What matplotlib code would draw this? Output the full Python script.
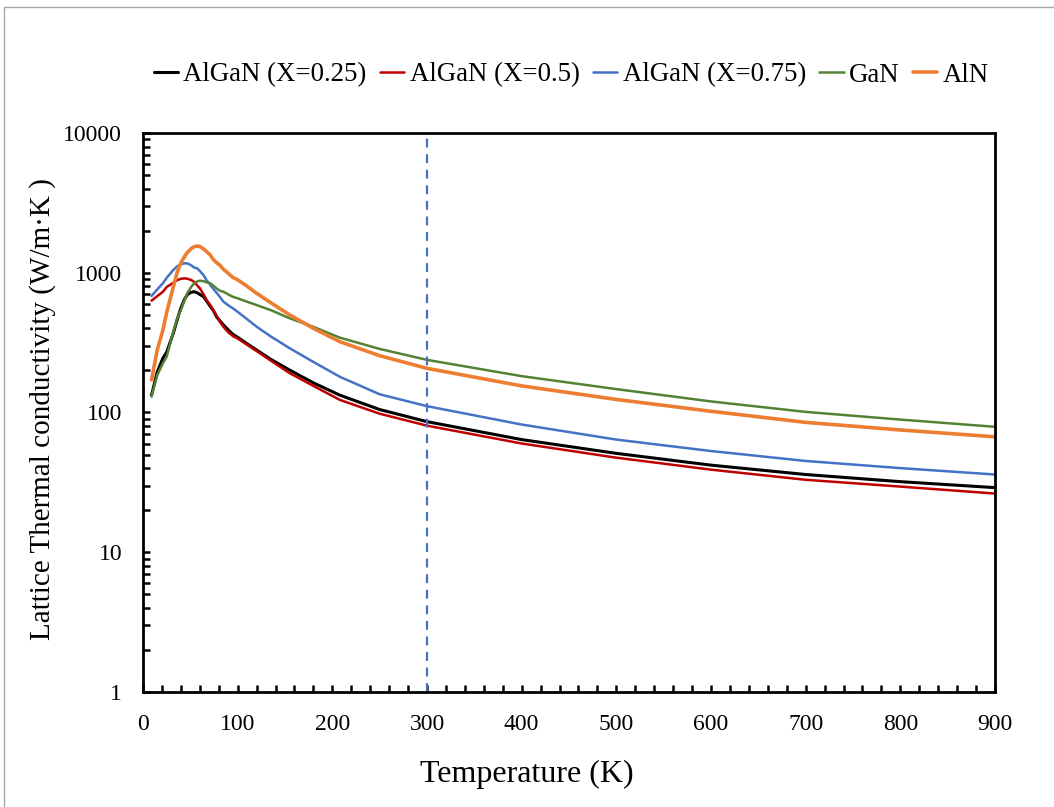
import matplotlib
matplotlib.use("Agg")
import matplotlib.pyplot as plt
from matplotlib.patches import Rectangle
from matplotlib.ticker import MultipleLocator, LogLocator, FuncFormatter, NullFormatter

plt.rcParams["font.family"] = ["Liberation Serif", "DejaVu Serif"]

temp = [9, 15, 21, 25, 32, 36, 40, 44, 47, 51, 54, 57, 60, 64, 67, 71, 74, 78, 81, 85,
        90, 95, 100, 110, 120, 135, 155, 180, 208, 250, 300, 400, 500, 600, 700, 800, 900]

k_x025 = [133, 195, 245, 270, 370, 460, 560, 650, 700, 725, 732, 720, 700, 674, 630, 575, 541, 480, 455, 423,
          390, 362, 345, 310, 280, 240, 201, 163, 133, 105, 86, 64, 51, 42, 36, 32, 29]
k_x05 = [631, 680, 731, 790, 849, 885, 905, 912, 905, 887, 860, 815, 774, 700, 640, 587, 545, 490, 447, 410,
         375, 352, 338, 305, 275, 235, 191, 155, 123, 98, 80.5, 60, 47.5, 39, 33, 29.5, 26.3]
k_x075 = [682, 760, 841, 920, 1047, 1110, 1150, 1169, 1165, 1130, 1090, 1077, 1030, 960, 887, 820, 770, 715, 674, 620,
          585, 556, 525, 465, 411, 350, 288, 230, 180, 135, 111, 82, 64, 53, 45, 40, 36]
k_gan = [130, 185, 225, 251, 380, 470, 541, 640, 720, 794, 840, 865, 877, 870, 855, 841, 810, 770, 745, 731,
         700, 672, 656, 620, 587, 540, 472, 410, 343, 285, 238, 182, 147, 120, 101, 89, 79]
k_aln = [171, 280, 389, 520, 794, 1000, 1180, 1310, 1400, 1490, 1535, 1552, 1540, 1480, 1420, 1340, 1250, 1175, 1135, 1060,
         990, 925, 890, 800, 713, 610, 499, 400, 321, 255, 207, 155, 124, 102, 85, 75, 67]

series = [
    ("AlGaN (X=0.25)", k_x025, "#000000", 2.2),
    ("AlGaN (X=0.5)", k_x05, "#C00000", 1.8),
    ("AlGaN (X=0.75)", k_x075, "#4472C4", 1.8),
    ("GaN", k_gan, "#548235", 1.8),
    ("AlN", k_aln, "#ED7D31", 2.6),
]

fig = plt.figure(figsize=(10.54, 8.07), dpi=100)
ax = fig.add_axes([0.1357, 0.1425, 0.8083, 0.6927])

for label, vals, color, lw in series:
    ax.plot(temp, vals, color=color, lw=lw, label=label,
            solid_joinstyle="round", solid_capstyle="round")

# room temperature marker
ax.axvline(300, color="#4472C4", lw=1.6, ls=(0, (4, 3)))

ax.set_yscale("log")
ax.set_xlim(0, 900)
ax.set_ylim(1, 10000)
ax.xaxis.set_major_locator(MultipleLocator(100))
ax.xaxis.set_minor_locator(MultipleLocator(20))
ax.yaxis.set_major_locator(LogLocator(base=10, numticks=10))
ax.yaxis.set_minor_locator(LogLocator(base=10, subs=range(2, 10), numticks=20))
ax.yaxis.set_major_formatter(FuncFormatter(lambda v, p: f"{v:g}"))
ax.yaxis.set_minor_formatter(NullFormatter())

ax.tick_params(which="both", direction="in", length=5, width=1.8, labelsize=17,
               top=False, right=False)
ax.tick_params(axis="x", pad=16)
ax.tick_params(axis="y", pad=15)
for sp in ax.spines.values():
    sp.set_linewidth(2.0)

fig.text(0.50, 0.04, "Temperature (K)", fontsize=23, ha="center", va="center")
fig.text(0.040, 1 - 640 / 807, "Lattice Thermal conductivity (W/m·K )", fontsize=21,
         rotation=90, ha="center", va="bottom")

fig.legend(loc="center", bbox_to_anchor=(0.542, 0.907), ncol=5, frameon=False,
           fontsize=19.4, handlelength=0.9, handletextpad=0.2, columnspacing=0.5)

# light outer frame
fig.patches.append(Rectangle((4 / 1054, -0.1), 1.2, 1.1 - 7 / 807, transform=fig.transFigure,
                             fill=False, edgecolor="#A6A6A6", lw=1.0))

fig.savefig("out.png", dpi=100)
